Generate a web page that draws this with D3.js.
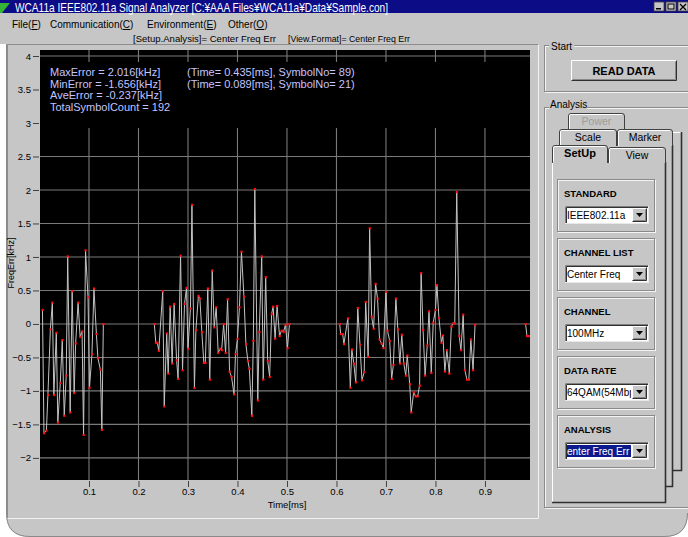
<!DOCTYPE html>
<html lang="ja">

<head>
    <meta charset="UTF-8">
    <title>WCA11a Signal Analyzer</title>
    <style>
        body {
            margin: 0px;
            padding: 0px;
            background-color: white;
        }

        svg {
            display: block;
            font-family: "Liberation Sans", Arial, sans-serif;
        }
    </style>
</head>

<body>
    <div id="app"></div>

    <script src="https://cdn.jsdelivr.net/npm/d3@7"></script>
    <script>

        // data (time in ms, frequency error in kHz)
        const burst1Time = [0.006, 0.009, 0.014, 0.017, 0.022, 0.026, 0.029, 0.034, 0.037, 0.042, 0.046, 0.050, 0.054, 0.057, 0.062, 0.066,
            0.070, 0.073, 0.078, 0.082, 0.086, 0.089, 0.093, 0.098, 0.101, 0.106, 0.110, 0.115, 0.118, 0.123, 0.126, 0.129];
        const burst1Err = [0.21, -1.63, -1.59, -1.06, -0.08, 0.32, -1.06, -0.13, -1.47, -0.88, -0.24, -1.37, -0.77, 1.01, -1.32, 0.49,
            -1.03, -0.29, 0.32, -0.19, -0.11, -1.656, 1.10, 0.40, -0.95, -0.45, 0.53, -0.15, -0.51, -0.68, -1.58, 0.0];

        const burst2Time = [0.232, 0.235, 0.238, 0.241, 0.249, 0.252, 0.257, 0.260, 0.264, 0.268, 0.272, 0.277, 0.280, 0.285, 0.289, 0.293,
            0.297, 0.300, 0.305, 0.308, 0.313, 0.316, 0.321, 0.324, 0.328, 0.332, 0.335, 0.340, 0.344, 0.349, 0.353, 0.357,
            0.361, 0.365, 0.368, 0.372, 0.376, 0.380, 0.384, 0.388, 0.393, 0.396, 0.400, 0.404, 0.408, 0.413, 0.417, 0.421,
            0.424, 0.429, 0.432, 0.435, 0.441, 0.444, 0.449, 0.452, 0.457, 0.461, 0.465, 0.469, 0.472, 0.476, 0.480, 0.485,
            0.489, 0.493, 0.497, 0.501, 0.505];
        const burst2Err = [0.0, -0.28, -0.28, -0.40, 0.49, -1.23, -0.14, -0.74, 0.26, -0.59, 0.30, -0.54, -0.82, 1.02, -0.69, 0.30,
            0.54, -0.37, 0.23, 1.78, -0.955, -0.09, 0.42, 0.38, -0.12, -0.58, -0.58, 0.53, -0.83, 0.80, -0.05, 0.25,
            -0.43, -0.37, -0.39, 0.0, -0.43, 0.37, -0.71, -0.79, -1.05, -0.45, -0.22, 0.25, 1.08, 0.41, -0.30, -0.55,
            -0.67, -1.37, -0.25, 2.016, -1.14, -0.12, 1.01, -0.83, 0.70, -0.55, -0.79, 0.15, 0.26, -0.22, 0.27, -0.18,
            -0.10, -0.12, -0.01, -0.36, 0.0];

        const burst3Time = [0.6065, 0.6085, 0.6125, 0.615, 0.623, 0.628, 0.631, 0.635, 0.639, 0.643, 0.6475, 0.6515, 0.656, 0.659, 0.664, 0.667,
            0.671, 0.675, 0.679, 0.683, 0.687, 0.691, 0.695, 0.700, 0.703, 0.7075, 0.7115, 0.715, 0.720, 0.724, 0.728, 0.732,
            0.736, 0.740, 0.743, 0.748, 0.751, 0.756, 0.760, 0.764, 0.768, 0.771, 0.775, 0.779, 0.7835, 0.787, 0.7915, 0.7955,
            0.800, 0.803, 0.807, 0.812, 0.815, 0.819, 0.823, 0.828, 0.832, 0.836, 0.839, 0.843, 0.848, 0.8515, 0.856, 0.8595,
            0.8635, 0.8675, 0.8715, 0.876, 0.880];
        const burst3Err = [0.0, -0.15, -0.15, -0.30, 0.085, -0.95, -0.38, -0.59, -0.87, 0.24, -0.31, -0.84, -0.72, 0.33, -0.49, 1.43,
            0.11, -0.07, 0.60, 0.38, -0.23, -0.29, -0.36, 0.48, -0.10, -0.25, -0.82, -0.61, 0.38, -0.08, -0.59, -0.16,
            -0.59, -0.77, -0.47, -0.90, -1.32, -1.02, -1.08, -1.08, -0.92, 0.76, -0.09, -0.77, -0.32, 0.19, -0.73, 0.02,
            0.21, 0.58, 0.09, -0.28, -0.17, -0.71, -0.39, -0.74, -0.04, 0.01, 0.01, 1.97, -0.18, -0.39, 0.14, -0.69,
            -0.83, -0.83, -0.23, -0.69, -0.01];

        const tailTime = [0.982, 0.985, 0.989, 0.995];
        const tailErr = [0.0, -0.18, -0.18, -0.18];

        const yTicks = [-2, -1.5, -1, -0.5, 0, 0.5, 1, 1.5, 2, 2.5, 3, 3.5, 4];
        const xTicks = [0.1, 0.2, 0.3, 0.4, 0.5, 0.6, 0.7, 0.8, 0.9];

        const statLines = ["MaxError = 2.016[kHz]", "MinError = -1.656[kHz]", "AveError = -0.237[kHz]", "TotalSymbolCount = 192"];
        const statNotes = ["(Time= 0.435[ms], SymbolNo= 89)", "(Time= 0.089[ms], SymbolNo= 21)"];

        const menuItems = [["File(", "F", ")"], ["Communication(", "C", ")"], ["Environment(", "E", ")"], ["Other(", "O", ")"]];
        const menuX = [12, 50, 147, 228];

        const groupLabels = ["STANDARD", "CHANNEL LIST", "CHANNEL", "DATA RATE", "ANALYSIS"];
        const groupValues = ["IEEE802.11a", "Center Freq", "100MHz", "64QAM(54Mbps)", "enter Freq Err"];


        // window
        const w = 688;
        const h = 537;
        const face = "#c6c6c6";

        const svg = d3.select("#app")
            .append("svg")
            .attr("width", w)
            .attr("height", h);

        svg.append("rect").attr("width", w).attr("height", h).attr("fill", "white");

        // body with rounded bottom corners
        svg.append("path")
            .attr("d", `M0,0 H${w} V${h - 24} Q${w},${h} ${w - 24},${h} H30 Q6,${h} 6,${h - 24} V44 H0 Z`)
            .attr("fill", face);
        svg.append("path")
            .attr("d", `M6.5,44 V${h - 24} Q6.5,${h - 0.5} 30,${h - 0.5} H${w - 24} Q${w - 0.5},${h - 0.5} ${w - 0.5},${h - 24}`)
            .attr("fill", "none")
            .attr("stroke", "#8a8a8a");

        // title bar
        svg.append("rect").attr("width", w).attr("height", 13).attr("fill", "#0c0c86");
        svg.append("path").attr("d", "M0,13 L0,3 L10,3 L2,13 Z").attr("fill", "#36b436");
        svg.append("text")
            .attr("x", 15).attr("y", 11.5)
            .attr("fill", "white")
            .style("font-size", "13.5px")
            .attr("textLength", 373)
            .attr("lengthAdjust", "spacingAndGlyphs")
            .text("WCA11a IEEE802.11a Signal Analyzer [C:¥AAA Files¥WCA11a¥Data¥Sample.con]");

        // caption buttons
        [654, 666, 678].forEach((bx, i) => {
            svg.append("rect").attr("x", bx).attr("y", 2).attr("width", 10).attr("height", 9)
                .attr("fill", face).attr("stroke", "#404040").attr("stroke-width", 0.8);
            if (i === 0) svg.append("rect").attr("x", bx + 2).attr("y", 8).attr("width", 5).attr("height", 1.5).attr("fill", "black");
            if (i === 1) svg.append("rect").attr("x", bx + 2).attr("y", 4).attr("width", 6).attr("height", 5).attr("fill", "none").attr("stroke", "black");
            if (i === 2) svg.append("path").attr("d", `M${bx + 2},4 L${bx + 8},10 M${bx + 8},4 L${bx + 2},10`).attr("stroke", "black").attr("stroke-width", 1.3);
        });

        // menu
        const menu = svg.append("g").style("font-size", "10px");
        menuItems.forEach((m, i) => {
            const t = menu.append("text").attr("x", menuX[i]).attr("y", 28);
            t.append("tspan").text(m[0]);
            t.append("tspan").style("text-decoration", "underline").text(m[1]);
            t.append("tspan").text(m[2]);
        });

        svg.append("text").attr("x", 133).attr("y", 41.5).style("font-size", "9px")
            .attr("textLength", 143).attr("lengthAdjust", "spacingAndGlyphs")
            .text("[Setup.Analysis]= Center Freq Err");
        svg.append("text").attr("x", 288).attr("y", 41.5).style("font-size", "9px")
            .attr("textLength", 122).attr("lengthAdjust", "spacingAndGlyphs")
            .text("[View.Format]= Center Freq Err");

        // chart panel border
        svg.append("path").attr("d", "M7.5,518.5 V44.5 H538.5").attr("fill", "none").attr("stroke", "#8c8c8c");
        svg.append("path").attr("d", "M7.5,518.5 H538.5 V44.5").attr("fill", "none").attr("stroke", "#f2f2f2");


        // plot
        const plot = { left: 40, right: 530, top: 50, bottom: 480 };

        const xScale = d3.scaleLinear().domain([0, 0.99]).range([39.5, 529.5]);
        const yScale = d3.scaleLinear().domain([-2.33, 4.09]).range([plot.bottom, plot.top]);

        svg.append("rect")
            .attr("x", plot.left).attr("y", plot.top)
            .attr("width", plot.right - plot.left).attr("height", plot.bottom - plot.top)
            .attr("fill", "black");

        const grid = svg.append("g")
            .attr("stroke", "#7a7a7a")
            .attr("stroke-width", 1.1);

        grid.selectAll(".vgrid")
            .data(xTicks)
            .enter()
            .append("line")
            .attr("x1", (d) => xScale(d)).attr("x2", (d) => xScale(d))
            .attr("y1", plot.top).attr("y2", plot.bottom);

        grid.selectAll(".hgrid")
            .data(yTicks)
            .enter()
            .append("line")
            .attr("x1", plot.left).attr("x2", plot.right)
            .attr("y1", (d) => yScale(d)).attr("y2", (d) => yScale(d));

        // stats label sits on a black box over the grid
        svg.append("rect")
            .attr("x", plot.left).attr("y", 62)
            .attr("width", plot.right - plot.left).attr("height", 66)
            .attr("fill", "black");

        const stats = svg.append("g")
            .attr("fill", "#c4c4ff")
            .style("font-size", "11px");
        stats.selectAll(".stat")
            .data(statLines)
            .enter()
            .append("text")
            .attr("x", 50)
            .attr("y", (d, i) => 76 + i * 11.5)
            .text((d) => d);
        stats.selectAll(".note")
            .data(statNotes)
            .enter()
            .append("text")
            .attr("x", 187)
            .attr("y", (d, i) => 76 + i * 11.5)
            .text((d) => d);

        // axes
        const yAxis = d3.axisLeft(yScale)
            .tickValues(yTicks)
            .tickSize(6)
            .tickFormat(d3.format("~g"));
        const xAxis = d3.axisBottom(xScale)
            .tickValues(xTicks)
            .tickSize(6)
            .tickFormat(d3.format("~g"));

        const gy = svg.append("g").attr("transform", `translate(${plot.left - 1}, 0)`).call(yAxis);
        const gx = svg.append("g").attr("transform", `translate(0, ${plot.bottom + 1})`).call(xAxis);
        [gy, gx].forEach((g) => {
            g.select(".domain").remove();
            g.selectAll("line").attr("stroke", "#404040");
            g.selectAll("text").attr("fill", "black").style("font-size", "9.5px").style("font-family", "Liberation Sans, Arial, sans-serif");
        });
        gy.selectAll("text").attr("x", -8);
        gx.selectAll("text").attr("y", 7);

        svg.append("text")
            .attr("transform", `translate(14, 263) rotate(-90)`)
            .attr("text-anchor", "middle")
            .style("font-size", "9px")
            .text("FreqErr[kHz]");

        svg.append("text")
            .attr("x", 287).attr("y", 508)
            .attr("text-anchor", "middle")
            .style("font-size", "9.5px")
            .text("Time[ms]");

        // trace
        svg.append("clipPath").attr("id", "plotClip")
            .append("rect")
            .attr("x", plot.left).attr("y", plot.top)
            .attr("width", plot.right - plot.left).attr("height", plot.bottom - plot.top);

        const bursts = [
            d3.zip(burst1Time, burst1Err),
            d3.zip(burst2Time, burst2Err),
            d3.zip(burst3Time, burst3Err),
            d3.zip(tailTime, tailErr)
        ];

        const line = d3.line()
            .x((d) => xScale(d[0]))
            .y((d) => yScale(d[1]));

        const trace = svg.append("g").attr("clip-path", "url(#plotClip)");

        trace.selectAll("path")
            .data(bursts)
            .enter()
            .append("path")
            .attr("d", line)
            .attr("fill", "none")
            .attr("stroke", "#c4c4c4")
            .attr("stroke-width", 1);

        trace.selectAll("rect")
            .data(bursts.flat())
            .enter()
            .append("rect")
            .attr("x", (d) => xScale(d[0]) - 1)
            .attr("y", (d) => yScale(d[1]) - 1)
            .attr("width", 2.2)
            .attr("height", 2.2)
            .attr("fill", "#ff1010");


        // right side controls
        function etched(g, x1, y1, x2, y2) {
            g.append("rect").attr("x", x1 + 0.5).attr("y", y1 + 0.5).attr("width", x2 - x1).attr("height", y2 - y1)
                .attr("fill", "none").attr("stroke", "#f4f4f4");
            g.append("rect").attr("x", x1 - 0.5).attr("y", y1 - 0.5).attr("width", x2 - x1).attr("height", y2 - y1)
                .attr("fill", "none").attr("stroke", "#8a8a8a");
        }

        function raised(g, x, y, bw, bh) {
            g.append("rect").attr("x", x).attr("y", y).attr("width", bw).attr("height", bh).attr("fill", face);
            g.append("path").attr("d", `M${x + 0.5},${y + bh - 0.5} V${y + 0.5} H${x + bw - 0.5}`).attr("fill", "none").attr("stroke", "white");
            g.append("path").attr("d", `M${x + 0.5},${y + bh - 0.5} H${x + bw - 0.5} V${y + 0.5}`).attr("fill", "none").attr("stroke", "#303030");
            g.append("path").attr("d", `M${x + 1.5},${y + bh - 1.5} H${x + bw - 1.5} V${y + 1.5}`).attr("fill", "none").attr("stroke", "#888");
        }

        const side = svg.append("g");

        // Start group
        etched(side, 545, 46, 700, 92);
        side.append("rect").attr("x", 549).attr("y", 40).attr("width", 25).attr("height", 10).attr("fill", face);
        side.append("text").attr("x", 551).attr("y", 50).style("font-size", "10px").text("Start");
        raised(side, 571, 60, 106, 21);
        side.append("text").attr("x", 624).attr("y", 74.5).attr("text-anchor", "middle")
            .style("font-size", "11px").style("font-weight", "bold").text("READ DATA");

        // Analysis group
        etched(side, 545, 108, 700, 508);
        side.append("rect").attr("x", 549).attr("y", 101).attr("width", 38).attr("height", 10).attr("fill", face);
        side.append("text").attr("x", 550).attr("y", 108).style("font-size", "10px").text("Analysis");

        function page(g, x1, y1, x2, y2) {
            g.append("rect").attr("x", x1).attr("y", y1).attr("width", x2 - x1).attr("height", y2 - y1).attr("fill", face);
            g.append("path").attr("d", `M${x1 + 0.5},${y2} V${y1 + 0.5} H${x2}`).attr("fill", "none").attr("stroke", "white");
            g.append("path").attr("d", `M${x1},${y2 - 0.5} H${x2 - 0.5} V${y1}`).attr("fill", "none").attr("stroke", "#303030").attr("stroke-width", 1.6);
        }

        function tab(g, x1, y1, x2, y2, label, opts) {
            g.append("path")
                .attr("d", `M${x1 + 0.5},${y2} V${y1 + 3} Q${x1 + 0.5},${y1 + 0.5} ${x1 + 3},${y1 + 0.5} H${x2 - 3} Q${x2 - 0.5},${y1 + 0.5} ${x2 - 0.5},${y1 + 3} V${y2}`)
                .attr("fill", face)
                .attr("stroke", "#404040");
            g.append("path")
                .attr("d", `M${x1 + 1.5},${y2} V${y1 + 3} Q${x1 + 1.5},${y1 + 1.5} ${x1 + 3},${y1 + 1.5} H${x2 - 3}`)
                .attr("fill", "none")
                .attr("stroke", "white");
            g.append("text")
                .attr("x", (x1 + x2) / 2).attr("y", y1 + 12)
                .attr("text-anchor", "middle")
                .attr("fill", opts.color || "black")
                .style("font-size", opts.bold ? "11px" : "10.5px")
                .style("font-weight", opts.bold ? "bold" : "normal")
                .text(label);
        }

        page(side, 566, 132, 682, 471);
        tab(side, 568, 113, 625, 129, "Power", { color: "#9c9c9c" });
        page(side, 559, 145, 673, 487);
        tab(side, 559, 129, 617, 146, "Scale", {});
        tab(side, 617, 129, 673, 146, "Marker", {});
        page(side, 552, 162, 666, 503);
        tab(side, 608, 147, 666, 163, "View", {});
        tab(side, 552, 145, 608, 163, "SetUp", { bold: true });
        side.append("rect").attr("x", 553.5).attr("y", 161).attr("width", 53.5).attr("height", 3).attr("fill", face);

        // setup groups
        const groupTop = 180;
        const groupStep = 59;

        groupLabels.forEach((label, i) => {
            const top = groupTop + i * groupStep;
            const g = side.append("g");
            etched(g, 558, top, 655, top + 52);
            g.append("text").attr("x", 564).attr("y", top + 17)
                .style("font-size", "9.5px").style("font-weight", "bold").text(label);

            // combo box
            g.append("rect").attr("x", 565).attr("y", top + 26).attr("width", 84).attr("height", 18).attr("fill", "white");
            g.append("path").attr("d", `M565.5,${top + 44} V${top + 26.5} H649`).attr("fill", "none").attr("stroke", "#808080");
            g.append("path").attr("d", `M566.5,${top + 43} V${top + 27.5} H648`).attr("fill", "none").attr("stroke", "#303030");
            g.append("path").attr("d", `M565,${top + 43.5} H648.5 V${top + 26}`).attr("fill", "none").attr("stroke", "#e8e8e8");

            const clipId = `combo${i}`;
            g.append("clipPath").attr("id", clipId)
                .append("rect").attr("x", 567).attr("y", top + 28).attr("width", 64).attr("height", 14);

            if (i === groupLabels.length - 1) {
                g.append("rect").attr("x", 567).attr("y", top + 29).attr("width", 64).attr("height", 12).attr("fill", "#0a1a8c");
            }
            g.append("text")
                .attr("x", 567).attr("y", top + 39)
                .attr("clip-path", `url(#${clipId})`)
                .attr("fill", i === groupLabels.length - 1 ? "white" : "black")
                .style("font-size", "10px")
                .text(groupValues[i]);

            raised(g, 632, top + 28, 15, 14);
            g.append("path").attr("d", `M636,${top + 33} H643 L639.5,${top + 37} Z`).attr("fill", "black");
        });

    </script>
</body>

</html>
